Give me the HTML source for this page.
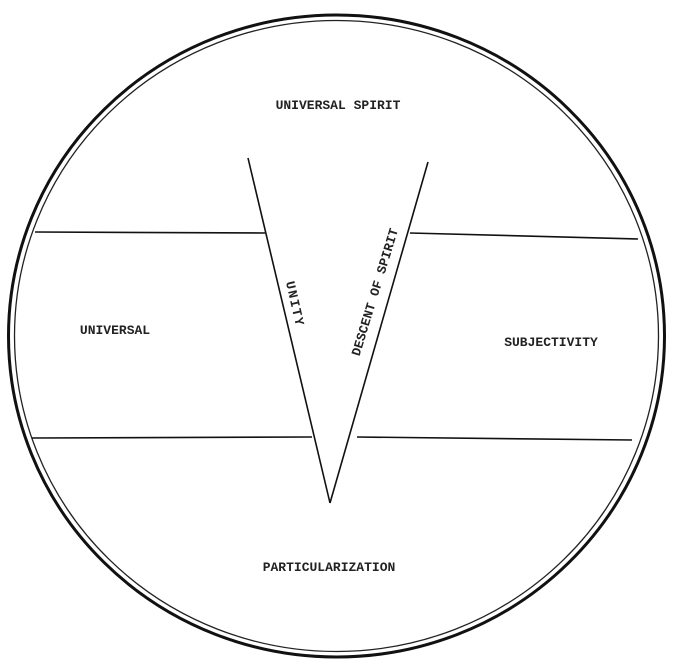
<!DOCTYPE html>
<html><head><meta charset="utf-8"><style>
html,body{margin:0;padding:0;background:#fff;}
svg{display:block;}
text{font-family:"Liberation Mono",monospace;font-weight:bold;fill:#222;font-size:13px;}
</style></head><body>
<svg width="678" height="668" viewBox="0 0 678 668">
<rect width="678" height="668" fill="#fff"/>
<ellipse cx="336.5" cy="336" rx="328" ry="321" fill="none" stroke="#111" stroke-width="3"/>
<ellipse cx="336.5" cy="336" rx="322" ry="315.5" fill="none" stroke="#222" stroke-width="1.3"/>
<g stroke="#111" stroke-width="1.6" fill="none">
<line x1="35" y1="232" x2="265" y2="233"/>
<line x1="410" y1="233" x2="638" y2="239"/>
<line x1="32" y1="438" x2="312" y2="437"/>
<line x1="357" y1="437" x2="632" y2="440"/>
<line x1="248" y1="158" x2="330" y2="503"/>
<line x1="428" y1="162" x2="330" y2="503"/>
</g>
<text x="338" y="109" text-anchor="middle">UNIVERSAL SPIRIT</text>
<text x="115" y="334" text-anchor="middle">UNIVERSAL</text>
<text x="551" y="346" text-anchor="middle">SUBJECTIVITY</text>
<text x="329" y="571" text-anchor="middle">PARTICULARIZATION</text>
<text transform="translate(295,304) rotate(77)" text-anchor="middle" dy="4" letter-spacing="1.5">UNITY</text>
<text transform="translate(375,292) rotate(-73)" text-anchor="middle" dy="4">DESCENT OF SPIRIT</text>
</svg>
</body></html>
